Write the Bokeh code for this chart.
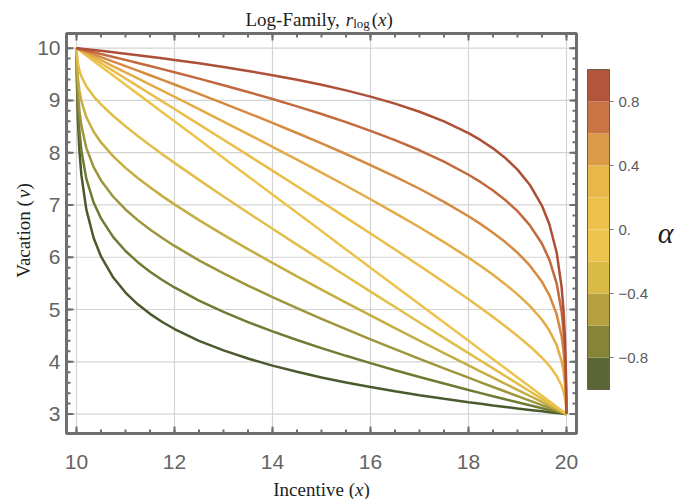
import math
from bokeh.plotting import figure
from bokeh.core.properties import value
from bokeh.embed import file_html
from bokeh.resources import INLINE

# ---------------- data ----------------
x_vals = [10, 10.01, 10.03, 10.06, 10.1, 10.2, 10.35, 10.5, 10.75, 11, 11.25, 11.5, 11.75, 12, 12.5,
          13, 13.5, 14, 14.5, 15, 15.5, 16, 16.5, 17, 17.5, 18, 18.25, 18.5, 18.75, 19, 19.25,
          19.5, 19.65, 19.8, 19.9, 19.94, 19.97, 19.99, 20]

alphas = [-1.0, -0.8, -0.6, -0.4, -0.2, 0.0, 0.2, 0.4, 0.6, 0.8, 1.0]

v_m10 = [10, 9.298, 8.595, 8.028, 7.570, 6.915, 6.369, 6.016, 5.612, 5.324, 5.100, 4.917, 4.761, 4.627,
         4.401, 4.217, 4.062, 3.927, 3.808, 3.701, 3.605, 3.517, 3.436, 3.361, 3.291, 3.226, 3.195,
         3.164, 3.135, 3.106, 3.079, 3.052, 3.036, 3.020, 3.010, 3.006, 3.003, 3.001, 3]
v_m08 = [10, 9.437, 8.872, 8.414, 8.042, 7.504, 7.046, 6.743, 6.385, 6.119, 5.905, 5.724, 5.564, 5.422,
         5.171, 4.954, 4.760, 4.582, 4.416, 4.261, 4.114, 3.974, 3.839, 3.709, 3.583, 3.461, 3.401,
         3.341, 3.283, 3.225, 3.168, 3.112, 3.078, 3.044, 3.022, 3.013, 3.007, 3.002, 3]
v_m06 = [10, 9.576, 9.149, 8.800, 8.514, 8.093, 7.723, 7.470, 7.157, 6.914, 6.710, 6.530, 6.367, 6.216,
         5.941, 5.690, 5.457, 5.236, 5.025, 4.821, 4.623, 4.430, 4.242, 4.057, 3.875, 3.696, 3.607,
         3.518, 3.431, 3.344, 3.257, 3.171, 3.120, 3.068, 3.034, 3.020, 3.010, 3.003, 3]
v_m04 = [10, 9.715, 9.425, 9.186, 8.986, 8.682, 8.401, 8.196, 7.930, 7.710, 7.515, 7.337, 7.169, 7.011,
         6.710, 6.427, 6.155, 5.891, 5.633, 5.380, 5.132, 4.887, 4.644, 4.404, 4.166, 3.930, 3.813,
         3.696, 3.579, 3.462, 3.347, 3.231, 3.161, 3.092, 3.046, 3.028, 3.014, 3.005, 3]
v_m02 = [10, 9.854, 9.702, 9.572, 9.458, 9.271, 9.078, 8.923, 8.702, 8.505, 8.320, 8.143, 7.972, 7.805,
         7.480, 7.163, 6.852, 6.545, 6.242, 5.940, 5.641, 5.343, 5.047, 4.752, 4.458, 4.165, 4.019,
         3.873, 3.727, 3.581, 3.436, 3.290, 3.203, 3.116, 3.058, 3.035, 3.017, 3.006, 3]
v_00 = [10, 9.993, 9.979, 9.958, 9.930, 9.860, 9.755, 9.650, 9.475, 9.300, 9.125, 8.950, 8.775, 8.600,
        8.250, 7.900, 7.550, 7.200, 6.850, 6.500, 6.150, 5.800, 5.450, 5.100, 4.750, 4.400, 4.225,
        4.050, 3.875, 3.700, 3.525, 3.350, 3.245, 3.140, 3.070, 3.042, 3.021, 3.007, 3]
v_p02 = [10, 9.994, 9.983, 9.965, 9.942, 9.884, 9.797, 9.710, 9.564, 9.419, 9.273, 9.127, 8.981, 8.835,
         8.542, 8.248, 7.953, 7.657, 7.359, 7.060, 6.758, 6.455, 6.148, 5.837, 5.520, 5.195, 5.028,
         4.857, 4.680, 4.495, 4.298, 4.077, 3.922, 3.729, 3.542, 3.428, 3.298, 3.146, 3]
v_p04 = [10, 9.995, 9.986, 9.972, 9.954, 9.908, 9.839, 9.769, 9.653, 9.538, 9.421, 9.304, 9.187, 9.070,
         8.834, 8.596, 8.356, 8.113, 7.868, 7.620, 7.367, 7.109, 6.845, 6.573, 6.290, 5.989, 5.831,
         5.663, 5.485, 5.290, 5.070, 4.804, 4.599, 4.318, 4.014, 3.814, 3.575, 3.285, 3]
v_p06 = [10, 9.997, 9.990, 9.980, 9.966, 9.932, 9.880, 9.829, 9.743, 9.656, 9.569, 9.482, 9.393, 9.304,
         9.125, 8.943, 8.758, 8.570, 8.377, 8.179, 7.975, 7.764, 7.543, 7.310, 7.059, 6.784, 6.633,
         6.470, 6.290, 6.086, 5.843, 5.530, 5.277, 4.907, 4.486, 4.200, 3.851, 3.424, 3]
v_p08 = [10, 9.998, 9.993, 9.987, 9.978, 9.956, 9.922, 9.888, 9.832, 9.775, 9.717, 9.659, 9.599, 9.539,
         9.417, 9.291, 9.161, 9.026, 8.886, 8.739, 8.584, 8.418, 8.240, 8.046, 7.829, 7.578, 7.436,
         7.276, 7.095, 6.881, 6.615, 6.257, 5.954, 5.496, 4.958, 4.586, 4.128, 3.563, 3]
v_p10 = [10, 9.999, 9.997, 9.994, 9.990, 9.980, 9.964, 9.948, 9.921, 9.894, 9.865, 9.836, 9.805, 9.774,
         9.709, 9.639, 9.564, 9.483, 9.395, 9.299, 9.192, 9.073, 8.938, 8.783, 8.599, 8.373, 8.239,
         8.083, 7.900, 7.676, 7.388, 6.984, 6.631, 6.085, 5.430, 4.972, 4.405, 3.702, 3]

curves = [v_m10, v_m08, v_m06, v_m04, v_m02, v_00, v_p02, v_p04, v_p06, v_p08, v_p10]
curve_colors = ["#4b5a2d", "#717a33", "#9d953b", "#c5ad42", "#e1be48", "#ecc34c",
                "#eabd49", "#e3ab45", "#d68a40", "#c2693e", "#ae4f37"]

x_ticks = [10, 12, 14, 16, 18, 20]
x_labels = ["10", "12", "14", "16", "18", "20"]
y_ticks = [3, 4, 5, 6, 7, 8, 9, 10]
y_labels = ["3", "4", "5", "6", "7", "8", "9", "10"]

cb_edges = [-1.0, -0.8, -0.6, -0.4, -0.2, 0.0, 0.2, 0.4, 0.6, 0.8, 1.0]
cb_colors = ["#5a6633", "#868535", "#b5a23f", "#dbbb48", "#ecc44e",
             "#edc24c", "#e7b747", "#dc9b46", "#c97543", "#b3553a"]
cb_ticks = [-0.8, -0.4, 0.0, 0.4, 0.8]
cb_labels = ["\u22120.8", "\u22120.4", "0.", "0.4", "0.8"]

# ---------------- layout (page pixels; Bokeh's page has no body margin) ----------------
W, H = 674, 499
FRAME_L, FRAME_R, FRAME_T, FRAME_B = 66, 576, 33, 433
XR = (9.796, 20.204)
YR = (2.628, 10.28)
XPU = (FRAME_R - FRAME_L) / (XR[1] - XR[0])
YPU = (FRAME_B - FRAME_T) / (YR[1] - YR[0])


def px_x(px):
    return XR[0] + (px - FRAME_L) / XPU


def px_y(py):
    return YR[1] - (py - FRAME_T) / YPU


# colour bar: value -> page y
CB_L, CB_R, CB_ZERO, CB_PPU = 587, 609, 229, 160


def cb_y(c):
    return px_y(CB_ZERO - CB_PPU * c)


GRAY = "#6e6e6e"
SERIF = "Liberation Serif"
SANS = "Liberation Sans"
INK = "#1e1e1e"

p = figure(width=W, height=H,
           x_range=(px_x(0), px_x(W)), y_range=(px_y(H), px_y(0)),
           x_axis_location=None, y_axis_location=None,
           output_backend="svg", toolbar_location=None, min_border=0)
p.outline_line_color = None
p.background_fill_color = "white"
p.border_fill_color = "white"
p.grid.visible = False

# grid lines
p.segment(x0=x_ticks, y0=[YR[0]] * len(x_ticks), x1=x_ticks, y1=[YR[1]] * len(x_ticks),
          line_color="#d4d4d4", line_width=1.2)
p.segment(x0=[XR[0]] * len(y_ticks), y0=y_ticks, x1=[XR[1]] * len(y_ticks), y1=y_ticks,
          line_color="#d4d4d4", line_width=1.2)

# curves
for vals, col in zip(curves, curve_colors):
    p.line(x_vals, vals, line_color=col, line_width=2.5)

# frame ticks (inward, on all four sides)
xminor = [x_ticks[0] + 0.5 * i for i in range(int((x_ticks[-1] - x_ticks[0]) / 0.5) + 1)]
yminor = [y_ticks[0] + 0.2 * i for i in range(int(round((y_ticks[-1] - y_ticks[0]) / 0.2)) + 1)]
MAJ, MIN = 7.0, 4.0
for xs, ln in [(xminor, MIN), (x_ticks, MAJ)]:
    n = len(xs)
    p.segment(x0=xs, y0=[YR[0]] * n, x1=xs, y1=[YR[0] + ln / YPU] * n, line_color=GRAY, line_width=2)
    p.segment(x0=xs, y0=[YR[1]] * n, x1=xs, y1=[YR[1] - ln / YPU] * n, line_color=GRAY, line_width=2)
for ys, ln in [(yminor, MIN), (y_ticks, MAJ)]:
    n = len(ys)
    p.segment(x0=[XR[0]] * n, y0=ys, x1=[XR[0] + ln / XPU] * n, y1=ys, line_color=GRAY, line_width=2)
    p.segment(x0=[XR[1]] * n, y0=ys, x1=[XR[1] - ln / XPU] * n, y1=ys, line_color=GRAY, line_width=2)

# frame
p.quad(left=[XR[0]], right=[XR[1]], bottom=[YR[0]], top=[YR[1]],
       fill_color=None, line_color=GRAY, line_width=3)

# tick labels
p.text(x=x_ticks, y=[px_y(461)] * len(x_ticks), text=x_labels,
       text_font=value(SANS), text_font_size="21px", text_color="#646464",
       text_align="center", text_baseline="alphabetic")
p.text(x=[px_x(60)] * len(y_ticks), y=y_ticks, text=y_labels,
       text_font=value(SANS), text_font_size="21px", text_color="#646464",
       text_align="right", text_baseline="middle")


def put(text, px, py, size="19px", style="normal", angle=0.0, align="left",
        baseline="alphabetic", font=SERIF, color=INK):
    p.text(x=[px_x(px)], y=[px_y(py)], text=[text], text_font=value(font), text_font_size=size,
           text_font_style=style, angle=angle, text_align=align, text_baseline=baseline,
           text_color=color)


# title: Log-Family, r_log(x)
tb = 19
put("Log-Family, ", 245, tb)
put("r", 345.3, tb, style="italic")
put("log", 352.7, tb + 4, size="13px")
put("(", 371.3, tb)
put("x", 377.6, tb, style="italic")
put(")", 386.0, tb)

# x axis label: Incentive (x)
xb = 489
put("Incentive (", 272.7, xb)
put("x", 354.5, xb, style="italic")
put(")", 362.9, xb)

# y axis label: Vacation (v), rotated
put("Vacation (", 23, 277.2, angle=math.pi / 2)
put("v", 23, 197.5, style="italic", angle=math.pi / 2)
put(")", 23, 189.1, angle=math.pi / 2)

# ---------------- colour bar ----------------
nb = len(cb_colors)
p.quad(left=[px_x(CB_L)] * nb, right=[px_x(CB_R)] * nb,
       bottom=[cb_y(e) for e in cb_edges[:-1]], top=[cb_y(e) for e in cb_edges[1:]],
       fill_color=cb_colors, line_color=None)
p.quad(left=[px_x(CB_L)], right=[px_x(CB_R)], bottom=[cb_y(cb_edges[0])], top=[cb_y(cb_edges[-1])],
       fill_color=None, line_color="#6a5d4d", line_width=1)
nt = len(cb_ticks)
p.segment(x0=[px_x(CB_R)] * nt, y0=[cb_y(t) for t in cb_ticks],
          x1=[px_x(CB_R + 4)] * nt, y1=[cb_y(t) for t in cb_ticks],
          line_color="#777777", line_width=1)
p.text(x=[px_x(CB_R + 9)] * nt, y=[cb_y(t) for t in cb_ticks], text=cb_labels,
       text_font=value(SANS), text_font_size="15px", text_color="#5a5a5a",
       text_align="left", text_baseline="middle")
put("\u03b1", 665, 232, size="30px", style="italic", align="center", baseline="middle")

open("out.html", "w").write(file_html(p, INLINE))
